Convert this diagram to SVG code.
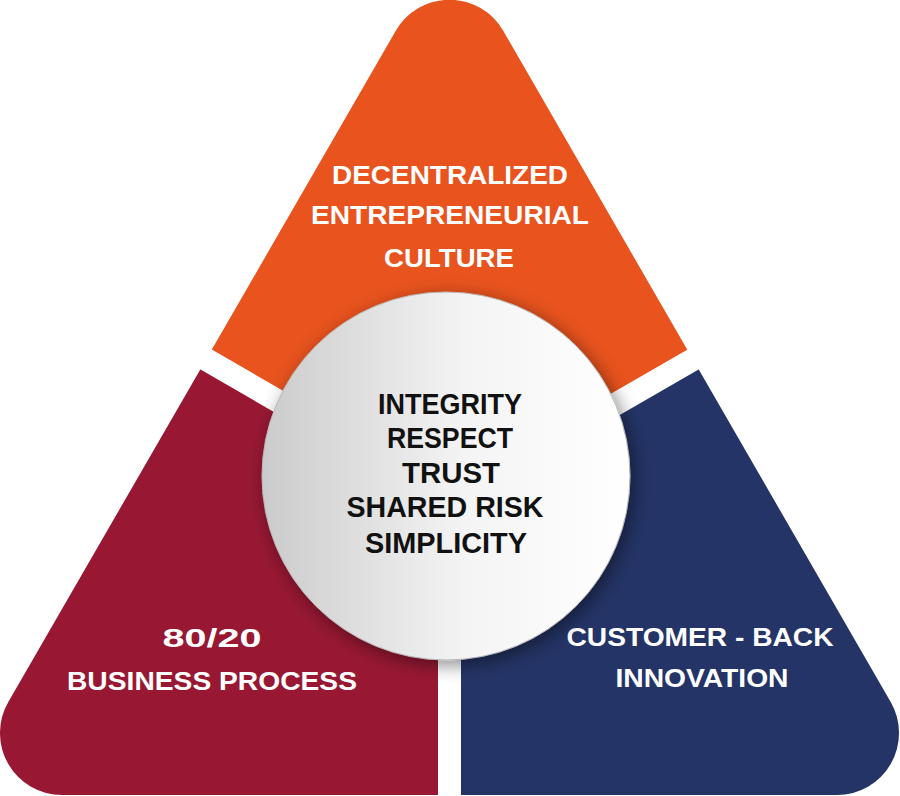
<svg xmlns="http://www.w3.org/2000/svg" width="900" height="796" viewBox="0 0 900 796">
<style>
.wt{font-family:"Liberation Sans","Arial",sans-serif;font-weight:bold;font-size:26.5px;fill:#ffffff;text-anchor:middle}
.bt{font-family:"Liberation Sans","Arial",sans-serif;font-weight:bold;font-size:29px;fill:#111111;text-anchor:middle}
</style>
<defs>
<path id="tri" d="M 503.2 30.8 L 890.7 702 A 62 62 0 0 1 837 795 L 62 795 A 62 62 0 0 1 8.3 702 L 395.8 30.8 A 62 62 0 0 1 503.2 30.8 Z"/>
<clipPath id="cTop"><polygon points="449.5,486.7 -160,135 -160,-100 1060,-100 1060,135"/></clipPath>
<clipPath id="cLeft"><polygon points="438,506.6 -255,106.6 -255,900 438,900"/></clipPath>
<clipPath id="cRight"><polygon points="461,506.6 1154,106.6 1154,900 461,900"/></clipPath>
<linearGradient id="gCircle" x1="0" y1="0" x2="1" y2="0">
<stop offset="0" stop-color="#cbcbcb"/>
<stop offset="0.55" stop-color="#f4f4f4"/>
<stop offset="1" stop-color="#ffffff"/>
</linearGradient>
<filter id="shadow" x="-30%" y="-30%" width="160%" height="160%">
<feGaussianBlur in="SourceAlpha" stdDeviation="9"/>
<feOffset dx="4" dy="5" result="b"/>
<feFlood flood-color="#000000" flood-opacity="0.45"/>
<feComposite in2="b" operator="in" result="s"/>
<feMerge><feMergeNode in="s"/><feMergeNode in="SourceGraphic"/></feMerge>
</filter>
</defs>
<rect width="900" height="796" fill="#ffffff"/>
<g id="segment-top">
<use href="#tri" fill="#e8531e" clip-path="url(#cTop)"/>
<text class="wt" x="450" y="184" textLength="236" lengthAdjust="spacingAndGlyphs">DECENTRALIZED</text>
<text class="wt" x="450" y="224" textLength="278" lengthAdjust="spacingAndGlyphs">ENTREPRENEURIAL</text>
<text class="wt" x="449" y="267" textLength="130" lengthAdjust="spacingAndGlyphs">CULTURE</text>
</g>
<g id="segment-left">
<use href="#tri" fill="#981833" clip-path="url(#cLeft)"/>
<text class="wt" x="212" y="647" textLength="99" lengthAdjust="spacingAndGlyphs">80/20</text>
<text class="wt" x="212" y="690" textLength="290" lengthAdjust="spacingAndGlyphs">BUSINESS PROCESS</text>
</g>
<g id="segment-right">
<use href="#tri" fill="#243466" clip-path="url(#cRight)"/>
<text class="wt" x="700" y="646" textLength="267" lengthAdjust="spacingAndGlyphs">CUSTOMER - BACK</text>
<text class="wt" x="702" y="687" textLength="173" lengthAdjust="spacingAndGlyphs">INNOVATION</text>
</g>
<g id="core">
<circle cx="446" cy="476" r="184" fill="url(#gCircle)" stroke="#b8b8b8" stroke-width="1" filter="url(#shadow)"/>
<text class="bt" x="450" y="414" textLength="144" lengthAdjust="spacingAndGlyphs">INTEGRITY</text>
<text class="bt" x="450" y="448" textLength="126" lengthAdjust="spacingAndGlyphs">RESPECT</text>
<text class="bt" x="451" y="483" textLength="98" lengthAdjust="spacingAndGlyphs">TRUST</text>
<text class="bt" x="445" y="517" textLength="197" lengthAdjust="spacingAndGlyphs">SHARED RISK</text>
<text class="bt" x="446" y="553" textLength="162" lengthAdjust="spacingAndGlyphs">SIMPLICITY</text>
</g>
<g id="connectors"></g>
</svg>
